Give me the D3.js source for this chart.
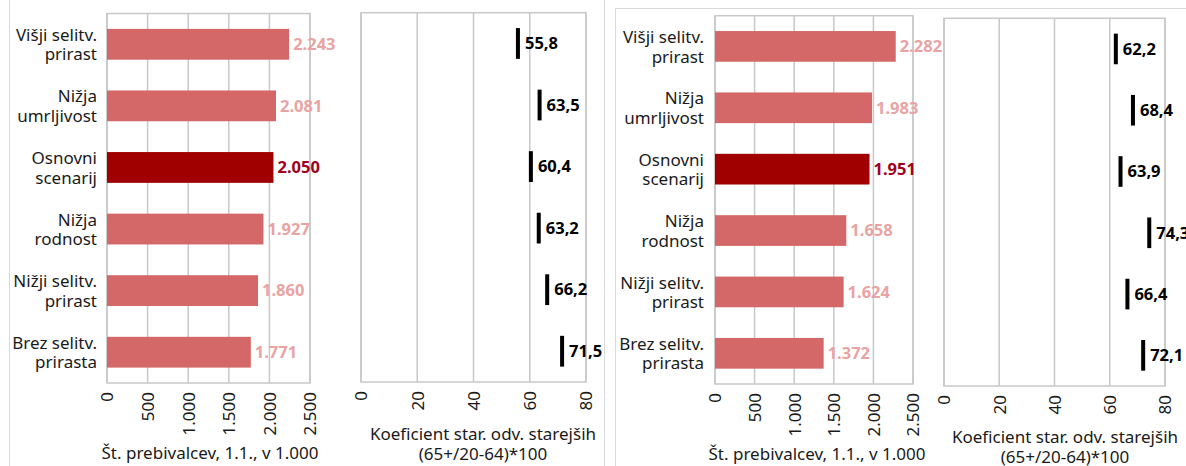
<!DOCTYPE html>
<html>
<head>
<meta charset="utf-8">
<script src="https://cdn.jsdelivr.net/npm/d3@7"></script>
<style>
    body { margin: 0; background: #fff; }
    svg text { font-family: "Noto Sans", "Open Sans", sans-serif; }
</style>
</head>
<body>
<div id="chart"></div>
<script>
// scenariji (od zgoraj navzdol)
const categories = [
    ["Višji selitv.", "prirast"],
    ["Nižja", "umrljivost"],
    ["Osnovni", "scenarij"],
    ["Nižja", "rodnost"],
    ["Nižji selitv.", "prirast"],
    ["Brez selitv.", "prirasta"]
];
const baseIndex = 2; // Osnovni scenarij

// levi graf
const popLeft = [2243, 2081, 2050, 1927, 1860, 1771];
const oadrLeft = [55.8, 63.5, 60.4, 63.2, 66.2, 71.5];
// desni graf
const popRight = [2282, 1983, 1951, 1658, 1624, 1372];
const oadrRight = [62.2, 68.4, 63.9, 74.3, 66.4, 72.1];

const popTicks = [0, 500, 1000, 1500, 2000, 2500];
const oadrTicks = [0, 20, 40, 60, 80];
const popTitle = ["Št. prebivalcev, 1.1., v 1.000"];
const oadrTitle = ["Koeficient star. odv. starejših", "(65+/20-64)*100"];

const BAR = "#d46767";
const BAR_BASE = "#a00000";
const LBL = "#e8a3a3";
const LBL_BASE = "#a00020";
const GRID = "#c8c8c8";

const sl = d3.formatLocale({ decimal: ",", thousands: ".", grouping: [3], currency: ["", " €"] });
const fmtPop = sl.format(",d");
const fmtOadr = sl.format(".1f");

const svg = d3.select("#chart").append("svg")
    .attr("width", 1186)
    .attr("height", 466);

// okvirja grafov
svg.append("rect")
    .attr("x", 9.5).attr("y", -10)
    .attr("width", 595).attr("height", 500)
    .attr("fill", "none").attr("stroke", "#d9d9d9");
svg.append("rect")
    .attr("x", 615.5).attr("y", 8.5)
    .attr("width", 600).attr("height", 500)
    .attr("fill", "none").attr("stroke", "#d9d9d9");

function drawPanel(p) {
    const g = svg.append("g");
    const x = d3.scaleLinear().domain(p.domain).range([p.x0, p.x1]);
    const y = d3.scaleBand()
        .domain(d3.range(categories.length))
        .range([p.y0, p.y1])
        .paddingInner(0.5)
        .paddingOuter(0.25);

    // mreža
    g.append("g").selectAll("line")
        .data(p.ticks)
        .join("line")
        .attr("x1", d => x(d)).attr("x2", d => x(d))
        .attr("y1", p.y0).attr("y2", p.y1)
        .attr("stroke", GRID).attr("stroke-width", 1.5);
    g.append("rect")
        .attr("x", p.x0).attr("y", p.y0)
        .attr("width", p.x1 - p.x0).attr("height", p.y1 - p.y0)
        .attr("fill", "none").attr("stroke", GRID).attr("stroke-width", 1.5);

    // os x
    const xAxis = d3.axisBottom(x).tickValues(p.ticks).tickFormat(p.tickFormat).tickSize(0);
    const ax = g.append("g")
        .attr("transform", `translate(0,${p.y1})`)
        .call(xAxis);
    ax.select(".domain").remove();
    ax.selectAll("text")
        .attr("transform", "rotate(-90)")
        .attr("x", -9).attr("y", 0)
        .attr("dy", "0.35em")
        .style("text-anchor", "end")
        .style("font-size", "17px")
        .attr("fill", "#1a1a1a");

    // naslov osi
    g.append("text")
        .attr("x", p.titleX)
        .attr("y", p.titleY)
        .attr("text-anchor", "middle")
        .attr("font-size", "17px")
        .attr("fill", "#1a1a1a")
        .selectAll("tspan")
        .data(p.title)
        .join("tspan")
        .attr("x", p.titleX)
        .attr("dy", (d, i) => (i === 0 ? 0 : 20))
        .text(d => d);

    // kategorije
    if (p.labelX) {
        g.append("g").selectAll("text")
            .data(categories)
            .join("text")
            .attr("x", p.labelX)
            .attr("y", (d, i) => y(i) + y.bandwidth() / 2)
            .attr("text-anchor", "end")
            .attr("font-size", "17px")
            .attr("fill", "#1a1a1a")
            .selectAll("tspan")
            .data(d => d)
            .join("tspan")
            .attr("x", p.labelX)
            .attr("dy", (d, i) => (i === 0 ? "-0.2em" : "1.15em"))
            .text(d => d);
    }

    if (p.type === "bar") {
        g.append("g").selectAll("rect")
            .data(p.values)
            .join("rect")
            .attr("x", x(0))
            .attr("y", (d, i) => y(i))
            .attr("width", d => x(d) - x(0))
            .attr("height", y.bandwidth())
            .attr("fill", (d, i) => (i === baseIndex ? BAR_BASE : BAR));
        g.append("g").selectAll("text")
            .data(p.values)
            .join("text")
            .attr("x", d => x(d) + 4)
            .attr("y", (d, i) => y(i) + y.bandwidth() / 2)
            .attr("dy", "0.35em")
            .attr("font-size", "16.5px")
            .attr("font-weight", "bold")
            .attr("fill", (d, i) => (i === baseIndex ? LBL_BASE : LBL))
            .text(d => p.valueFormat(d));
    } else {
        g.append("g").selectAll("rect")
            .data(p.values)
            .join("rect")
            .attr("x", d => x(d) - 2)
            .attr("y", (d, i) => y(i))
            .attr("width", 4)
            .attr("height", y.bandwidth())
            .attr("fill", "#000");
        g.append("g").selectAll("text")
            .data(p.values)
            .join("text")
            .attr("x", d => x(d) + 7)
            .attr("y", (d, i) => y(i) + y.bandwidth() / 2)
            .attr("dy", "0.35em")
            .attr("font-size", "16.5px")
            .attr("font-weight", "bold")
            .attr("fill", "#000")
            .text(d => p.valueFormat(d));
    }
}

drawPanel({ type: "bar", values: popLeft, domain: [0, 2500], ticks: popTicks,
    tickFormat: fmtPop, valueFormat: fmtPop,
    x0: 107, x1: 310, y0: 13.5, y1: 383, labelX: 97,
    title: popTitle, titleX: 210, titleY: 459 });
drawPanel({ type: "marker", values: oadrLeft, domain: [0, 80], ticks: oadrTicks,
    tickFormat: d3.format("d"), valueFormat: fmtOadr,
    x0: 361, x1: 586, y0: 12.7, y1: 382,
    title: oadrTitle, titleX: 483, titleY: 440 });
drawPanel({ type: "bar", values: popRight, domain: [0, 2500], ticks: popTicks,
    tickFormat: fmtPop, valueFormat: fmtPop,
    x0: 715, x1: 913, y0: 15.7, y1: 384, labelX: 704,
    title: popTitle, titleX: 817, titleY: 460 });
drawPanel({ type: "marker", values: oadrRight, domain: [0, 80], ticks: oadrTicks,
    tickFormat: d3.format("d"), valueFormat: fmtOadr,
    x0: 944, x1: 1165, y0: 18.3, y1: 386,
    title: oadrTitle, titleX: 1065, titleY: 443 });
</script>
</body>
</html>
